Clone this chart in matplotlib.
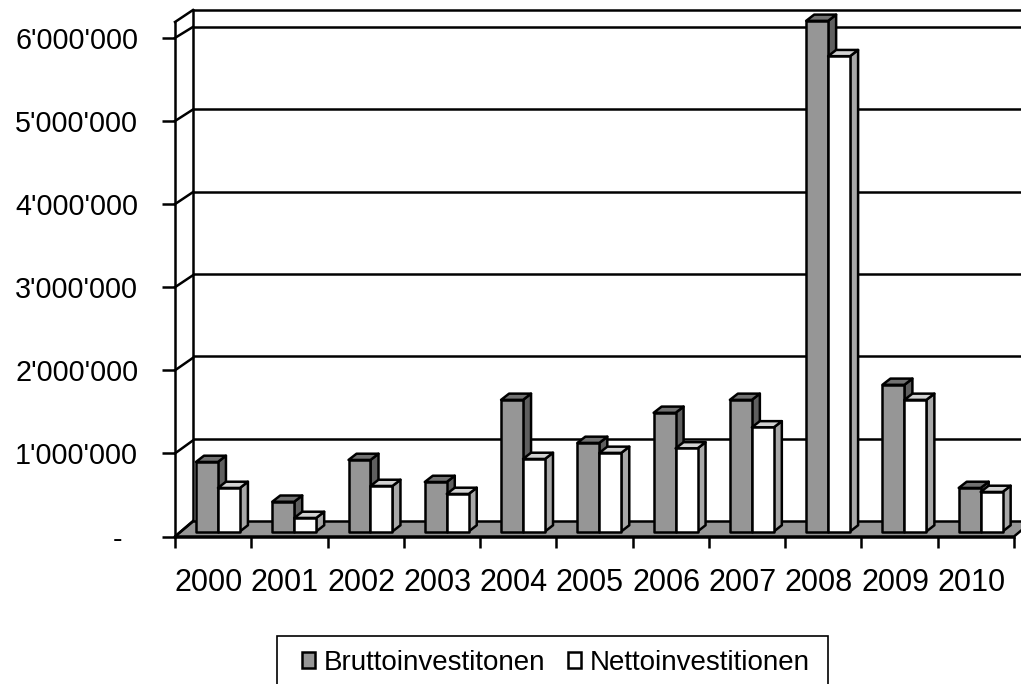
import matplotlib
matplotlib.use("Agg")
import matplotlib.pyplot as plt
from matplotlib.patches import Polygon, Rectangle
from matplotlib.transforms import Affine2D

plt.rcParams['font.family'] = ['Liberation Sans', 'DejaVu Sans']

years = ['2000', '2001', '2002', '2003', '2004', '2005', '2006', '2007', '2008', '2009', '2010']
brutto = [837000, 358000, 861000, 596000, 1584000, 1066000, 1428000, 1584000, 6145000, 1765000, 524000]
netto = [524000, 163000, 548000, 452000, 873000, 946000, 1000000, 1253000, 5720000, 1584000, 476000]
y_ticks = [0, 1000000, 2000000, 3000000, 4000000, 5000000, 6000000]
y_labels = ['-  ', "1'000'000", "2'000'000", "3'000'000", "4'000'000", "5'000'000", "6'000'000"]
legend_labels = ['Bruttoinvestitonen', 'Nettoinvestitionen']

W, H = 1021, 684
LW = 1.8


def box(left, top, right, bottom):
    return [left / W, 1 - bottom / H, (right - left) / W, (bottom - top) / H]


fig = plt.figure(figsize=(W / 100, H / 100), dpi=100, facecolor='white')

# Back wall and floor: own axes
back = fig.add_axes(box(193, 10, 1032, 521))
back.set_xlim(-0.5, 10.5)
back.set_ylim(0, 511 / 82.33 * 1e6)
back.set_yticks(y_ticks[1:])
back.set_xticks([])
back.tick_params(left=False, labelleft=False)
back.grid(axis='y', color='black', lw=LW)
back.set_axisbelow(True)
for s in ('right', 'bottom'):
    back.spines[s].set_visible(False)
for s in ('left', 'top'):
    back.spines[s].set_linewidth(LW)

# Front plane
ax = fig.add_axes(box(175, 22, 1014, 536.5))
ax.patch.set_alpha(0)
ax.set_xlim(-0.5, 10.5)
ax.set_ylim(0, 514.5 / 83.1 * 1e6)
for s in ('right', 'top'):
    ax.spines[s].set_visible(False)
for s in ('left', 'bottom'):
    ax.spines[s].set_linewidth(LW)
ax.set_yticks(y_ticks, y_labels, fontsize=20.7)
ax.tick_params(axis='y', length=9.5, width=LW, pad=17)
ax.set_xticks([i - 0.5 for i in range(12)], [''] * 12)
ax.set_xticks([i - 0.06 for i in range(11)], years, minor=True, fontsize=22)
ax.tick_params(axis='x', which='major', length=8, width=LW)
ax.tick_params(axis='x', which='minor', length=0, pad=23)

# Perspective joins between the front plane and the back wall
DX, DY = 18, 15
for v, dy in zip(y_ticks + [514.5 / 83.1 * 1e6], [15.5, 13, 12.5, 12, 12, 11.5, 11, 12]):
    x0, y0 = ax.transData.transform((-0.5, v))
    fig.add_artist(plt.Line2D([x0, x0 + DX], [y0, y0 + dy], transform=None, color='black', lw=LW))

# Floor
x0, y0 = ax.transData.transform((-0.5, 0))
x1, _ = ax.transData.transform((10.5, 0))
floor = Polygon([(x0, y0), (x1, y0), (x1 + DX, y0 + DY), (x0 + DX, y0 + DY)],
                closed=True, transform=None, facecolor='#969696', edgecolor='black', lw=LW, zorder=1)
fig.add_artist(floor)
back.set_zorder(0)

# Bars sit 5 px behind the front plane
lift = ax.transData + Affine2D().translate(0, 5)
BAR_W = 0.288
DEPTH_X = 0.105
DEPTH_Y = 75000


def draw_bar(i, left, value, face, top_col, side_col, label=None):
    r = left + BAR_W
    kw = dict(transform=lift, edgecolor='black', lw=LW, clip_on=False, joinstyle='round')
    ax.add_patch(Polygon([(r, 0), (r + DEPTH_X, DEPTH_Y), (r + DEPTH_X, value + DEPTH_Y), (r, value)],
                         facecolor=side_col, zorder=3 + i * 0.1, **kw))
    ax.add_patch(Polygon([(left, value), (r, value), (r + DEPTH_X, value + DEPTH_Y), (left + DEPTH_X, value + DEPTH_Y)],
                         facecolor=top_col, zorder=3 + i * 0.1, **kw))
    return ax.bar(left, value, BAR_W, align='edge', color=face, zorder=3 + i * 0.1, label=label, **kw)


h1 = h2 = None
for i in range(len(years)):
    h1 = draw_bar(i, i - 0.225, brutto[i], '#969696', '#727272', '#5f5f5f', legend_labels[0])
    h2 = draw_bar(i + 0.5, i + 0.063, netto[i], 'white', '#d2d2d2', '#a8a8a8', legend_labels[1])
ax.set_xlim(-0.5, 10.5)
ax.set_ylim(0, 514.5 / 83.1 * 1e6)

# Legend frame runs off the bottom edge of the picture
fig.add_artist(Rectangle((277 / W, 1 - 692 / H), 551 / W, (692 - 635.5) / H,
                         transform=fig.transFigure, facecolor='white', edgecolor='black', lw=1.2, zorder=6))
leg = ax.legend([h1, h2], legend_labels, loc='upper left',
                bbox_to_anchor=(302 / W, 1 - 650 / H), bbox_transform=fig.transFigure,
                ncol=2, fontsize=20, frameon=False, borderaxespad=0, borderpad=0,
                handlelength=0.48, handleheight=0.48, handletextpad=0.3, columnspacing=0.82)
leg.set_zorder(10)
ax.set_zorder(7)

fig.savefig('out.png', dpi=100)
